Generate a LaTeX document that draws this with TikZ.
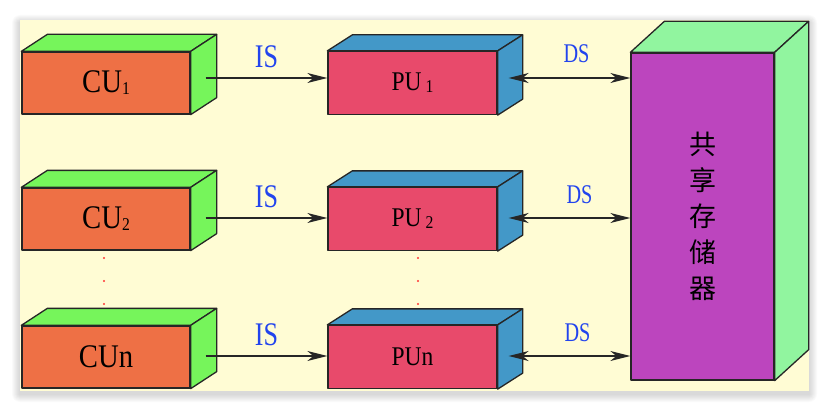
\documentclass[tikz,border=0pt]{standalone}
\usepackage{fontspec}
\usepackage{graphicx}
\setmainfont{Liberation Serif}
\newfontfamily\cjk{Noto Sans CJK SC}
\usetikzlibrary{arrows.meta,calc}

\definecolor{bgyellow}{RGB}{255,252,212}
\definecolor{cuorange}{RGB}{238,112,69}
\definecolor{cugreen}{RGB}{118,245,91}
\definecolor{pured}{RGB}{232,74,107}
\definecolor{publue}{RGB}{67,152,200}
\definecolor{mempurple}{RGB}{188,69,190}
\definecolor{memgreen}{RGB}{145,245,159}
\definecolor{sigblue}{RGB}{34,68,238}

\newcommand{\narrow}[2]{\scalebox{#1}[1]{#2}}
\newcommand{\idx}[1]{\raisebox{-2pt}{\fontsize{18}{18}\selectfont #1}}
% top and side faces of a box, from its front node
\newcommand{\boxfaces}[4]{%
  \draw [face,fill=#4] (#1.north west) -- ++(#2,#3) -- ($(#1.north east)+(#2,#3)$) -- (#1.north east) -- cycle;
  \draw [face,fill=#4] (#1.north east) -- ($(#1.north east)+(#2,#3)$) -- ($(#1.south east)+(#2,#3)$) -- (#1.south east) -- cycle;}

\tikzset{
  face/.style={draw=black!85,line width=1.3pt,line join=round},
  cufront/.style={face,fill=cuorange,minimum width=168pt,minimum height=62pt,inner sep=0pt,font=\fontsize{33}{33}\selectfont},
  pufront/.style={face,fill=pured,minimum width=169pt,minimum height=63pt,inner sep=0pt,font=\fontsize{27}{27}\selectfont},
  memfront/.style={face,fill=mempurple,minimum width=143pt,minimum height=327pt,inner sep=0pt,align=center,font=\cjk\fontsize{27}{36}\selectfont},
  sig/.style={draw=black!85,line width=1.4pt,-{Stealth[length=20pt,width=10pt,inset=6pt]}},
  bisig/.style={draw=black!85,line width=1.4pt,{Stealth[length=20pt,width=10pt,inset=6pt]}-{Stealth[length=20pt,width=10pt,inset=6pt]}},
  lbl/.style={text=sigblue,inner sep=0pt}
}

\begin{document}
\begin{tikzpicture}[x=1pt,y=-1pt]
	\useasboundingbox (0,0) rectangle (830,412);
	% background with a soft shadow
	\foreach \s in {1,...,8}
		\fill [black,opacity=0.018,rounded corners=\s pt] ({20-\s},{20-\s+3}) rectangle ({809+\s},{391+\s+3});
	\fill [bgyellow] (20,20) rectangle (809,391);

	\node (cu1) [cufront] at (106,83) {\narrow{0.87}{CU\idx{1}}};
	\node (cu2) [cufront] at (106,219) {\narrow{0.87}{CU\idx{2}}};
	\node (cun) [cufront] at (106,357) {\narrow{0.87}{CUn}};
	\node (pu1) [pufront] at (412.5,83) {\narrow{0.87}{PU\,\idx{1}}};
	\node (pu2) [pufront] at (412.5,219) {\narrow{0.87}{PU\,\idx{2}}};
	\node (pun) [pufront] at (412.5,357) {\narrow{0.87}{PUn}};
	\node (mem) [memfront] at (702.5,216.5) {共\\享\\存\\储\\器};

	\boxfaces{cu1}{26}{-17}{cugreen}
	\boxfaces{cu2}{26}{-17}{cugreen}
	\boxfaces{cun}{26}{-17}{cugreen}
	\boxfaces{pu1}{25}{-16}{publue}
	\boxfaces{pu2}{25}{-16}{publue}
	\boxfaces{pun}{25}{-16}{publue}
	\boxfaces{mem}{34}{-31}{memgreen}

	% vertical dots between rows
	\foreach \y in {258,281,304} {
		\fill [red!80] (104,\y) circle (1.1);
		\fill [red!80] (418,\y) circle (1.1);
	}

	\coordinate (c1) at ([xshift=15pt,yshift=5pt]cu1.east);
	\coordinate (c2) at ([xshift=15pt,yshift=1pt]cu2.east);
	\coordinate (cn) at ([xshift=15pt,yshift=1pt]cun.east);
	\coordinate (p1) at ([xshift=11pt,yshift=5pt]pu1.east);
	\coordinate (p2) at ([xshift=11pt,yshift=1pt]pu2.east);
	\coordinate (pn) at ([xshift=11pt,yshift=1pt]pun.east);

	\draw (c1) edge [sig] node [lbl,above=9pt,font=\fontsize{33}{33}\selectfont] (is1) {\narrow{0.79}{IS}} (c1 -| pu1.west);
	\draw (c2) edge [sig] node [lbl,above=9pt,font=\fontsize{33}{33}\selectfont] (is2) {\narrow{0.79}{IS}} (c2 -| pu2.west);
	\draw (cn) edge [sig] node [lbl,above=9pt,font=\fontsize{33}{33}\selectfont] (isn) {\narrow{0.79}{IS}} (cn -| pun.west);
	\draw (p1) edge [bisig] node [lbl,above=15pt,xshift=7pt,font=\fontsize{27}{27}\selectfont] (ds1) {\narrow{0.75}{DS}} (p1 -| mem.west);
	\draw (p2) edge [bisig] node [lbl,above=14pt,xshift=10pt,font=\fontsize{27}{27}\selectfont] (ds2) {\narrow{0.75}{DS}} (p2 -| mem.west);
	\draw (pn) edge [bisig] node [lbl,above=14pt,xshift=8pt,font=\fontsize{27}{27}\selectfont] (dsn) {\narrow{0.75}{DS}} (pn -| mem.west);
\end{tikzpicture}
\end{document}
